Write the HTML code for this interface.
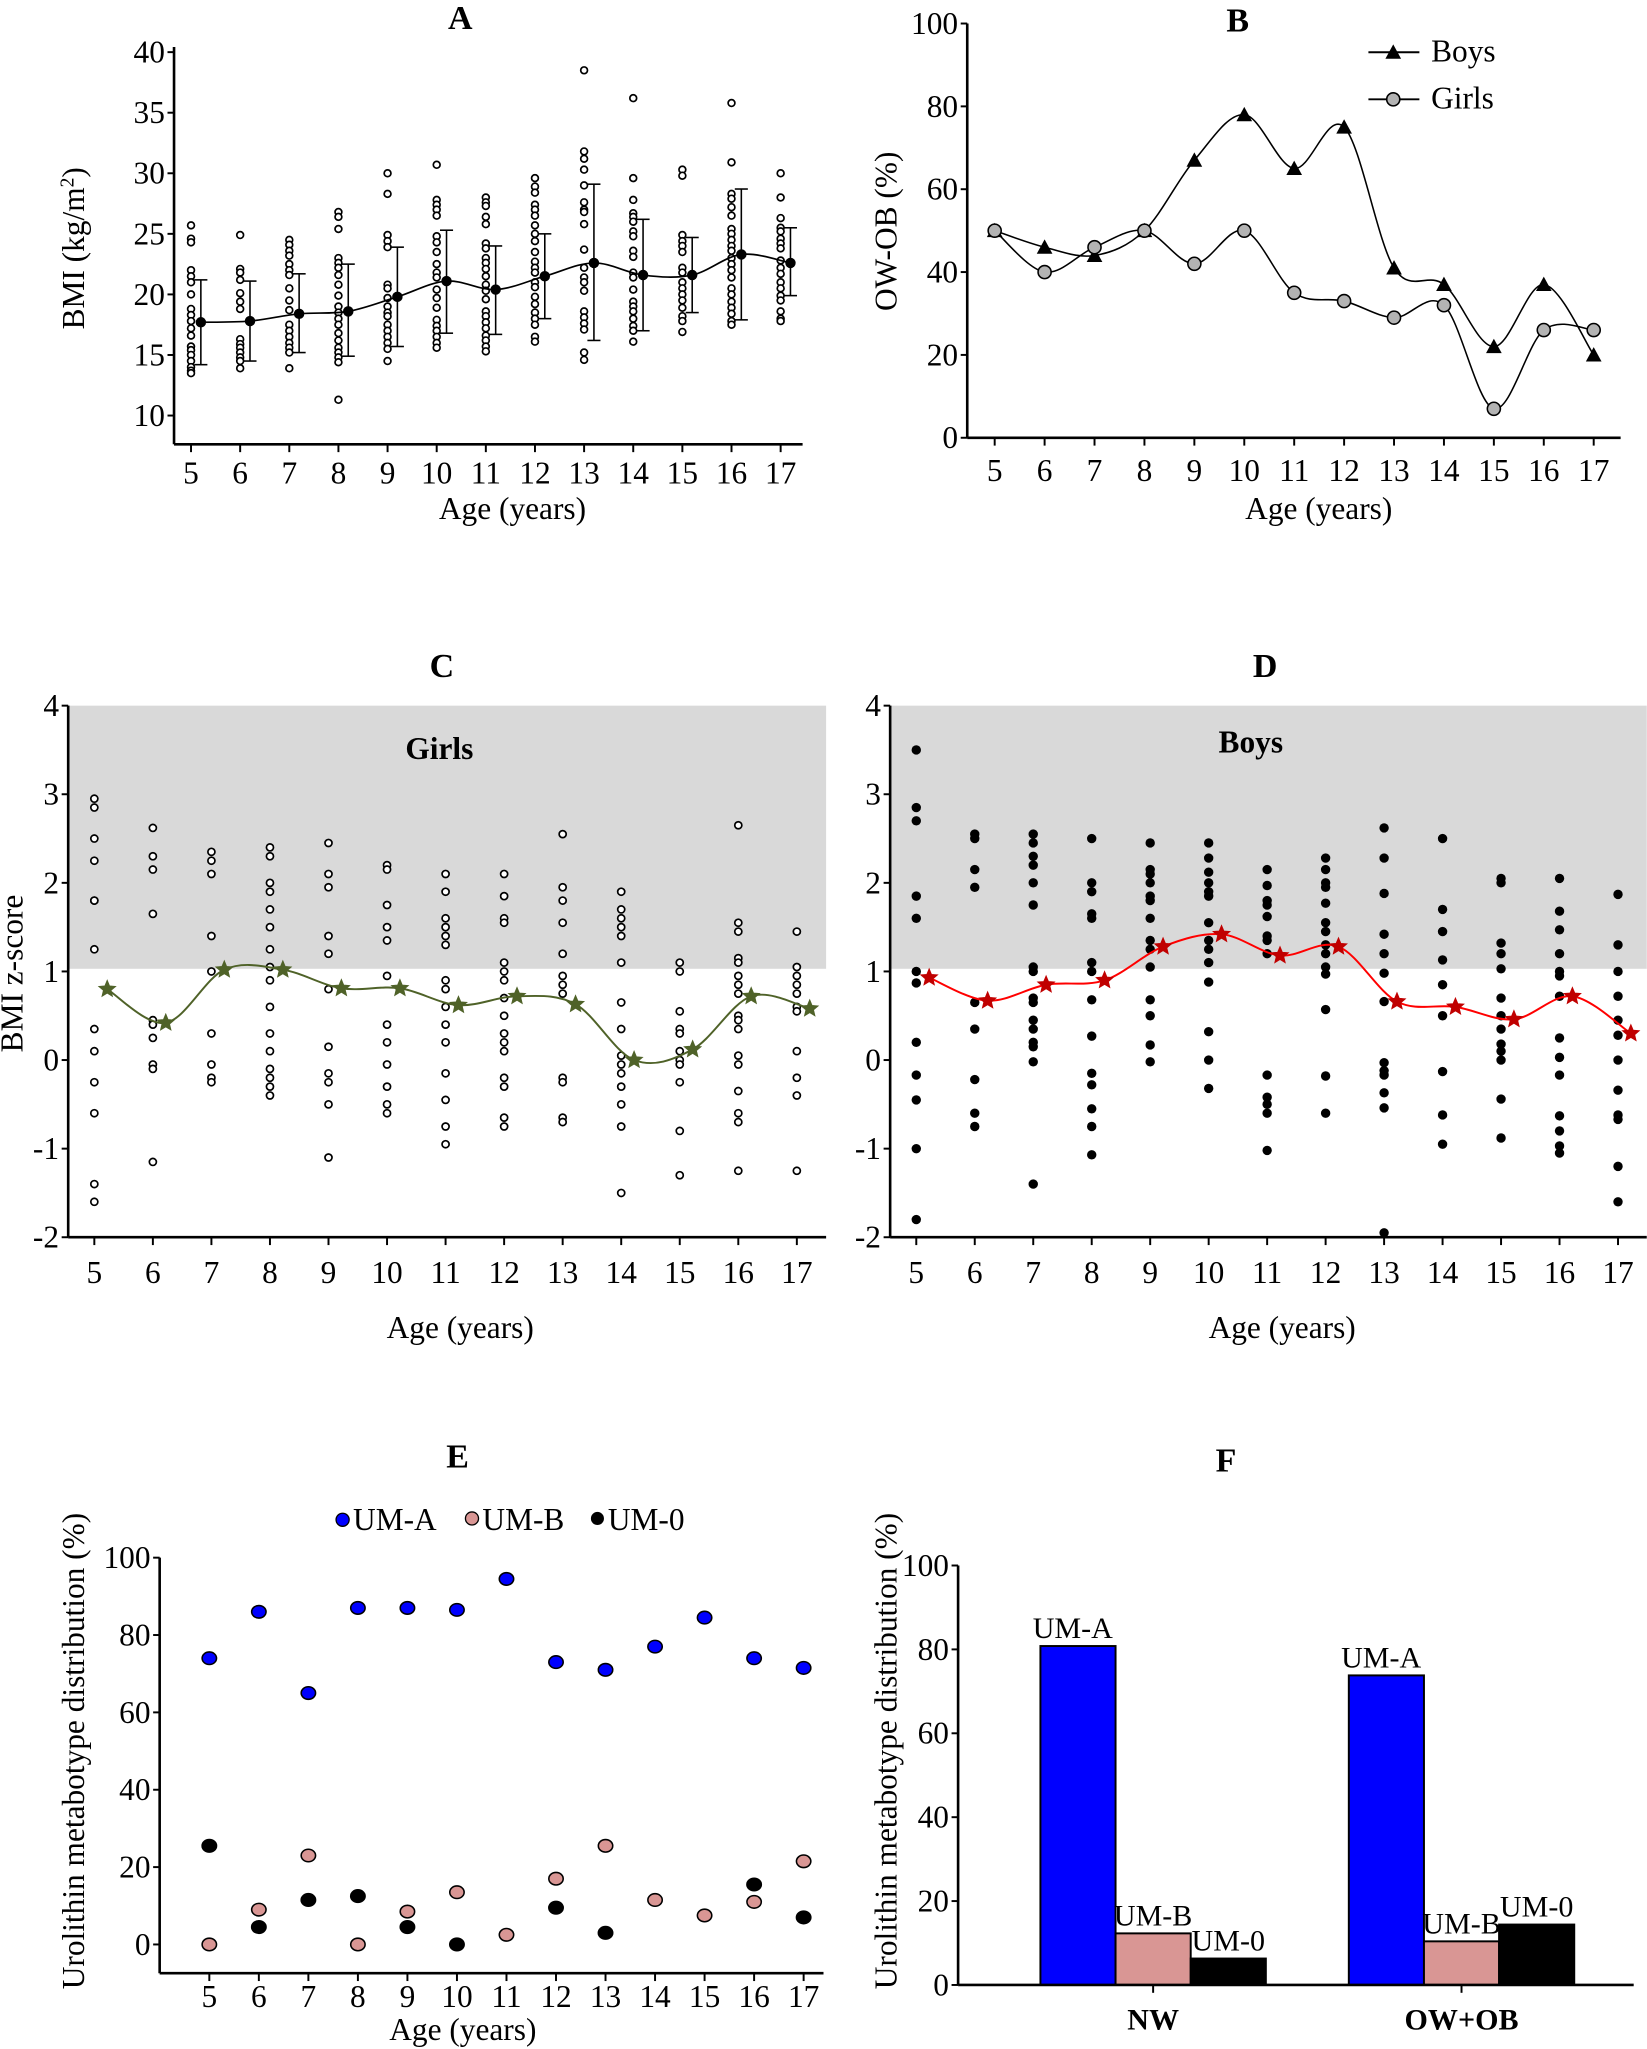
<!DOCTYPE html>
<html><head><meta charset="utf-8"><title>BMI and urolithin metabotype figure</title>
<style>
html,body{margin:0;padding:0;background:#fff;}
svg{display:block;font-family:"Liberation Serif",serif;}
</style></head>
<body>
<svg id="fig" width="1647" height="2049" viewBox="0 0 1260 1568" xmlns="http://www.w3.org/2000/svg"></svg>
<script>
// ---------- DATA ----------
const ages = [5,6,7,8,9,10,11,12,13,14,15,16,17];
// Panel A
const bmiPoints = [
 [25.7,24.6,24.3,22,21.5,21,20,18.8,18.3,17.8,17.2,16.6,15.7,15.4,15,14.5,14,13.7,13.5],
 [24.9,22.1,21.8,21.2,20.1,19.4,18.8,16.3,15.9,15.6,15.2,14.8,14.5,13.9],
 [24.5,24.1,23.6,23.2,22.5,22,21.6,20.5,19.5,18.7,17.5,17,16.5,16,15.6,15.2,13.9],
 [26.8,26.4,25.4,23,22.6,22.2,21.6,20.8,19.9,19,18.5,18,17.5,16.8,16.2,15.6,15.2,14.8,14.4,11.3],
 [30,28.3,24.9,24.4,23.9,20.8,20.5,19.7,19,18.5,18.2,17.5,17,16.5,16,15.5,14.5],
 [30.7,27.8,27.4,27,26.5,24.8,24.3,23.5,22.5,21.8,21.4,20.4,19.7,18.9,17.9,17.4,17,16.5,16,15.6],
 [28,27.6,27.3,26.4,25.8,24.2,23.8,23,22.6,22.1,21.5,20.8,20.3,19.6,18.6,18.2,17.7,17.2,16.6,16.2,15.7,15.3],
 [29.6,28.9,28.4,27.4,27,26.5,25.7,25,24.4,23.5,22.7,22.2,21.8,21,20.6,19.8,19.2,18.5,18,17.5,16.5,16.1],
 [38.5,31.8,31.2,30.3,29,27.6,27,26.8,25.8,23.7,22.2,21.4,21,20.3,18.6,18.1,17.6,17.1,15.2,14.6],
 [36.2,29.6,27.8,26.7,26.4,26,25.2,24.8,23.6,23.1,21.8,21.4,20.4,19.4,19,18.6,18,17.4,17,16.1],
 [30.3,29.8,24.9,24.4,24,23.5,22.2,21.8,21,20.5,20,19.5,18.9,18.2,17.8,16.9],
 [35.8,30.9,28.3,27.9,27.2,26.5,25.4,25,24.5,24,23.6,23,22.5,22,21.4,20.5,20,19.4,18.9,18.4,17.8,17.5],
 [30,28,26.3,25.5,25.2,24.6,24.2,23.8,22.8,22.2,21.7,21,20.5,19.9,19.5,18.6,18,17.8]
];
const bmiMean = [17.7,17.8,18.4,18.6,19.8,21.1,20.4,21.5,22.6,21.6,21.6,23.3,22.6];
const bmiUpper = [21.2,21.1,21.7,22.5,23.9,25.3,24.0,25.0,29.1,26.2,24.7,28.7,25.5];
const bmiLower = [14.2,14.5,15.2,14.9,15.7,16.8,16.7,18.0,16.2,17.0,18.5,17.9,19.9];
const bmiTicks = [10,15,20,25,30,35,40];
// Panel B
const boysOWOB = [50,46,44,50,67,78,65,75,41,37,22,37,20];
const girlsOWOB = [50,40,46,50,42,50,35,33,29,32,7,26,26];
const pctTicks = [0,20,40,60,80,100];
// Panel C
const girlsZ = [
 [2.95,2.85,2.5,2.25,1.8,1.8,1.25,0.35,0.1,-0.25,-0.6,-1.4,-1.6],
 [2.62,2.3,2.15,1.65,0.45,0.4,0.25,-0.05,-0.1,-1.15],
 [2.35,2.25,2.1,1.4,1.0,0.3,-0.05,-0.2,-0.25],
 [2.4,2.3,2.0,1.9,1.7,1.5,1.25,1.05,0.9,0.6,0.3,0.1,-0.1,-0.2,-0.3,-0.4],
 [2.45,2.1,1.95,1.4,1.2,0.8,0.15,-0.15,-0.25,-0.5,-1.1],
 [2.2,2.15,1.75,1.5,1.35,0.95,0.4,0.2,-0.05,-0.3,-0.5,-0.6],
 [2.1,1.9,1.6,1.5,1.4,1.3,0.9,0.8,0.6,0.4,0.2,-0.15,-0.45,-0.75,-0.95],
 [2.1,1.85,1.6,1.55,1.1,1.0,0.9,0.7,0.5,0.3,0.2,0.1,-0.2,-0.3,-0.65,-0.75],
 [2.55,1.95,1.8,1.55,1.2,0.95,0.85,0.75,-0.2,-0.25,-0.65,-0.7],
 [1.9,1.7,1.6,1.5,1.4,1.1,0.65,0.35,0.05,-0.05,-0.15,-0.3,-0.5,-0.75,-1.5],
 [1.1,1.0,0.55,0.35,0.3,0.1,0.0,-0.05,-0.25,-0.8,-1.3],
 [2.65,1.55,1.45,1.15,1.1,0.95,0.85,0.75,0.5,0.45,0.35,0.05,-0.05,-0.35,-0.6,-0.7,-1.25],
 [1.45,1.05,0.95,0.85,0.75,0.6,0.55,0.1,-0.2,-0.4,-1.25]
];
const girlsMeanZ = [0.8,0.42,1.02,1.02,0.81,0.81,0.62,0.72,0.63,0.0,0.12,0.72,0.58];
// Panel D
const boysZ = [
 [3.5,2.85,2.7,1.85,1.6,1.0,0.87,0.2,-0.17,-0.45,-1.0,-1.8],
 [2.55,2.5,2.15,1.95,0.65,0.35,-0.22,-0.6,-0.75],
 [2.55,2.45,2.3,2.2,2.0,1.75,1.05,1.0,0.7,0.65,0.45,0.35,0.2,0.15,-0.02,-1.4],
 [2.5,2.0,1.9,1.65,1.6,1.1,1.0,0.68,0.27,-0.15,-0.28,-0.55,-0.75,-1.07],
 [2.45,2.15,2.1,2.0,1.85,1.8,1.6,1.35,1.25,1.05,0.68,0.5,0.17,-0.02],
 [2.45,2.28,2.12,2.0,1.9,1.85,1.55,1.35,1.25,1.1,0.88,0.32,0.0,-0.32],
 [2.15,1.97,1.8,1.75,1.62,1.4,1.35,1.2,-0.17,-0.42,-0.5,-0.6,-1.02],
 [2.28,2.15,2.0,1.95,1.77,1.55,1.45,1.3,1.2,1.05,0.97,0.57,-0.18,-0.6],
 [2.62,2.28,1.88,1.42,1.2,0.98,0.66,-0.03,-0.12,-0.17,-0.37,-0.54,-1.95],
 [2.5,1.7,1.45,1.13,0.85,0.5,-0.13,-0.62,-0.95],
 [2.05,2.0,1.32,1.2,1.03,0.7,0.5,0.35,0.18,0.1,0.0,-0.44,-0.88],
 [2.05,1.68,1.47,1.2,1.0,0.95,0.72,0.25,0.03,-0.17,-0.63,-0.8,-0.97,-1.05],
 [1.87,1.3,1.0,0.72,0.45,0.28,0.0,-0.34,-0.62,-0.67,-1.2,-1.6]
];
const boysMeanZ = [0.93,0.67,0.85,0.9,1.28,1.42,1.18,1.28,0.66,0.6,0.46,0.72,0.3];
const zTicks = [-2,-1,0,1,2,3,4];
// Panel E
const umA = [74,86,65,87,87,86.5,94.5,73,71,77,84.5,74,71.5];
const umB = [0,9,23,0,8.5,13.5,2.5,17,25.5,11.5,7.5,11,21.5];
const um0 = [25.5,4.5,11.5,12.5,4.5,0,null,9.5,3,null,null,15.5,7];
// Panel F
const groups = ["NW","OW+OB"];
const fA = [80.8,73.8];
const fB = [12.3,10.4];
const f0 = [6.3,14.4];

// ---------- HELPERS ----------
const NS="http://www.w3.org/2000/svg";
const svg=document.getElementById('fig');
const FS=24;
function el(tag, name, attrs, parent, text){
  const e=document.createElementNS(NS,tag);
  for(const k in attrs) e.setAttribute(k,attrs[k]);
  
  
  if(text!==undefined) e.textContent=text;
  (parent||svg).appendChild(e);
  return e;
}
function txt(name,x,y,s,size,opts,parent){
  const a=Object.assign({x:x,y:y,'font-size':size,'text-anchor':'middle',fill:'#000'},opts||{});
  return el('text',name,a,parent,s);
}
function smoothPath(pts){
  let d='M'+pts[0][0]+','+pts[0][1];
  for(let i=0;i<pts.length-1;i++){
    const p0=pts[i-1]||pts[i],p1=pts[i],p2=pts[i+1],p3=pts[i+2]||p2;
    const c1x=p1[0]+(p2[0]-p0[0])/6,c1y=p1[1]+(p2[1]-p0[1])/6;
    const c2x=p2[0]-(p3[0]-p1[0])/6,c2y=p2[1]-(p3[1]-p1[1])/6;
    d+=' C'+c1x+','+c1y+' '+c2x+','+c2y+' '+p2[0]+','+p2[1];
  }
  return d;
}
function star(cx,cy,r){
  let p=[];
  for(let i=0;i<10;i++){const a=-Math.PI/2+i*Math.PI/5;const rr=i%2?r*0.45:r;p.push((cx+rr*Math.cos(a)).toFixed(2)+','+(cy+rr*Math.sin(a)).toFixed(2));}
  return p.join(' ');
}
function ageAxis(g,xs,yAxis,x0,x1,labY,name){
  el('line',name+'-x-axis',{x1:x0,x2:x1,y1:yAxis,y2:yAxis,stroke:'#000','stroke-width':2},g);
  ages.forEach((a,i)=>{
    el('line',name+'-x-tick',{x1:xs(a),x2:xs(a),y1:yAxis,y2:yAxis+6,stroke:'#000','stroke-width':1.5},g);
    txt(name+'-x-tick-label',xs(a),labY,String(a),FS,{},g);
  });
}
function yAxis(g,ys,ticks,x,yTop,yBot,name,lab){
  el('line',name+'-y-axis',{x1:x,x2:x,y1:yTop,y2:yBot,stroke:'#000','stroke-width':2},g);
  ticks.forEach(t=>{
    el('line',name+'-y-tick',{x1:x-5,x2:x,y1:ys(t),y2:ys(t),stroke:'#000','stroke-width':1.5},g);
    txt(name+'-y-tick-label',x-7,ys(t)+8,lab?lab(t):String(t),FS,{'text-anchor':'end'},g);
  });
}

// ---------- PANEL A ----------
(function(){
  const g=el('g','panel-a',{});
  const xs=a=>146+(a-5)*37.6, ys=v=>318-(v-10)*9.27;
  txt('panel-a-title',352,22,'A',26,{'font-weight':'bold'},g);
  yAxis(g,ys,bmiTicks,133,36,340,'panel-a');
  ageAxis(g,xs,340,133,614,370,'panel-a');
  txt('panel-a-x-title',392,397,'Age (years)',FS,{},g);
  const yl=txt('panel-a-y-title',0,0,'',FS,{transform:'translate(64,190) rotate(-90)'},g);
  yl.innerHTML='BMI (kg/m<tspan dy="-8" font-size="15">2</tspan><tspan dy="8">)</tspan>';
  bmiPoints.forEach((arr,i)=>arr.forEach(v=>el('circle','bmi-point',{cx:xs(ages[i]),cy:ys(v),r:2.6,fill:'#fff',stroke:'#000','stroke-width':1.3},g)));
  const mpts=bmiMean.map((m,i)=>[xs(ages[i]+0.2),ys(m)]);
  el('path','bmi-mean-line',{d:smoothPath(mpts),fill:'none',stroke:'#000','stroke-width':1.3},g);
  bmiMean.forEach((m,i)=>{
    const x=xs(ages[i]+0.2);
    el('line','bmi-error-bar',{x1:x,x2:x,y1:ys(bmiUpper[i]),y2:ys(bmiLower[i]),stroke:'#000','stroke-width':1.2},g);
    el('line','bmi-error-cap',{x1:x-5,x2:x+5,y1:ys(bmiUpper[i]),y2:ys(bmiUpper[i]),stroke:'#000','stroke-width':1.2},g);
    el('line','bmi-error-cap',{x1:x-5,x2:x+5,y1:ys(bmiLower[i]),y2:ys(bmiLower[i]),stroke:'#000','stroke-width':1.2},g);
    el('circle','bmi-mean-point',{cx:x,cy:ys(m),r:4,fill:'#000'},g);
  });
})();

// ---------- PANEL B ----------
(function(){
  const g=el('g','panel-b',{});
  const xs=a=>761+(a-5)*38.2, ys=v=>335-v*3.17;
  txt('panel-b-title',947,24,'B',26,{'font-weight':'bold'},g);
  yAxis(g,ys,pctTicks,740,18,335,'panel-b');
  ageAxis(g,xs,335,740,1240,368,'panel-b');
  txt('panel-b-x-title',1009,397,'Age (years)',FS,{},g);
  txt('panel-b-y-title',0,0,'OW-OB (%)',FS,{transform:'translate(686,177) rotate(-90)'},g);
  const bp=boysOWOB.map((v,i)=>[xs(ages[i]),ys(v)]);
  const gp=girlsOWOB.map((v,i)=>[xs(ages[i]),ys(v)]);
  el('path','boys-line',{d:smoothPath(bp),fill:'none',stroke:'#000','stroke-width':1.2},g);
  el('path','girls-line',{d:smoothPath(gp),fill:'none',stroke:'#000','stroke-width':1.2},g);
  bp.forEach(p=>el('polygon','boys-marker',{points:(p[0]-6)+','+(p[1]+5)+' '+(p[0]+6)+','+(p[1]+5)+' '+p[0]+','+(p[1]-6),fill:'#000'},g));
  gp.forEach(p=>el('circle','girls-marker',{cx:p[0],cy:p[1],r:5,fill:'#b3b3b3',stroke:'#000','stroke-width':1.2},g));
  el('line','legend-boys-line',{x1:1047,x2:1086,y1:40,y2:40,stroke:'#000','stroke-width':1.5},g);
  el('polygon','legend-boys-marker',{points:'1060,45 1072,45 1066,34',fill:'#000'},g);
  txt('legend-boys-label',1095,47,'Boys',FS,{'text-anchor':'start'},g);
  el('line','legend-girls-line',{x1:1047,x2:1086,y1:76,y2:76,stroke:'#000','stroke-width':1.5},g);
  el('circle','legend-girls-marker',{cx:1066,cy:76,r:5,fill:'#b3b3b3',stroke:'#000','stroke-width':1.2},g);
  txt('legend-girls-label',1095,83,'Girls',FS,{'text-anchor':'start'},g);
})();

// ---------- PANELS C & D ----------
function zPanel(id,title,sub,x0,x1,xs,pts,means,filled,color,lineColor,bandRight,titleX,subX){
  const g=el('g','panel-'+id,{});
  const ys=v=>811.2-v*67.8;
  el('rect','panel-'+id+'-overweight-band',{x:x0,y:ys(4),width:bandRight-x0,height:ys(1.03)-ys(4),fill:'#d9d9d9'},g);
  txt('panel-'+id+'-title',titleX,518,title,26,{'font-weight':'bold'},g);
  txt('panel-'+id+'-group-label',subX,id==='c'?581:576,sub,FS,{'font-weight':'bold'},g);
  yAxis(g,ys,zTicks,x0,ys(4),ys(-2),'panel-'+id);
  ageAxis(g,xs,ys(-2),x0,x1,982,'panel-'+id);
  pts.forEach((arr,i)=>arr.forEach(v=>el('circle','z-point',{cx:xs(ages[i]),cy:ys(v),r:filled?3.6:2.7,fill:filled?'#000':'#fff',stroke:'#000','stroke-width':filled?0:1.3},g)));
  const mp=means.map((m,i)=>[xs(ages[i]+0.22),ys(m)]);
  el('path','panel-'+id+'-mean-line',{d:smoothPath(mp),fill:'none',stroke:lineColor,'stroke-width':1.5},g);
  mp.forEach(p=>el('polygon','panel-'+id+'-mean-star',{points:star(p[0],p[1],7),fill:color,stroke:color,'stroke-width':0.5},g));
  return g;
}
zPanel('c','C','Girls',52,632,a=>72+(a-5)*44.8,girlsZ,girlsMeanZ,false,'#4f6228','#4f6228',632,338,336);
zPanel('d','D','Boys',681,1260,a=>701+(a-5)*44.75,boysZ,boysMeanZ,true,'#c00000','#ff0000',1260,968,957);
txt('panel-c-x-title',352,1024,'Age (years)',FS,{},svg);
txt('panel-d-x-title',981,1024,'Age (years)',FS,{},svg);
txt('panel-c-y-title',0,0,'BMI z-score',FS,{transform:'translate(17,745) rotate(-90)'},svg);

// ---------- PANEL E ----------
(function(){
  const g=el('g','panel-e',{});
  const xs=a=>160+(a-5)*37.9, ys=v=>1488-v*2.96;
  txt('panel-e-title',350,1123,'E',26,{'font-weight':'bold'},g);
  yAxis(g,ys,pctTicks,122,1192,1510,'panel-e');
  ageAxis(g,xs,1510,122,630,1536,'panel-e');
  txt('panel-e-x-title',354,1561,'Age (years)',FS,{},g);
  txt('panel-e-y-title',0,0,'Urolithin metabotype distribution (%)',FS,{transform:'translate(64,1340) rotate(-90)'},g);
  const series=[[umA,'#0000ff','um-a'],[umB,'#d99694','um-b'],[um0,'#000','um-0']];
  series.forEach(s=>s[0].forEach((v,i)=>{ if(v===null) return;
    el('ellipse',s[2]+'-point',{cx:xs(ages[i]),cy:ys(v),rx:5.5,ry:4.8,fill:s[1],stroke:'#000','stroke-width':1.2},g);}));
  el('circle','legend-um-a-marker',{cx:262,cy:1163,r:5,fill:'#0000ff',stroke:'#000'},g);
  txt('legend-um-a-label',270,1171,'UM-A',FS,{'text-anchor':'start'},g);
  el('circle','legend-um-b-marker',{cx:361,cy:1162,r:5,fill:'#d99694',stroke:'#000'},g);
  txt('legend-um-b-label',369,1171,'UM-B',FS,{'text-anchor':'start'},g);
  el('circle','legend-um-0-marker',{cx:457,cy:1162,r:5,fill:'#000'},g);
  txt('legend-um-0-label',465,1171,'UM-0',FS,{'text-anchor':'start'},g);
})();

// ---------- PANEL F ----------
(function(){
  const g=el('g','panel-f',{});
  const ys=v=>1519-v*3.21;
  const groupX=[796,1032], bw=57.5;
  txt('panel-f-title',938,1126,'F',26,{'font-weight':'bold'},g);
  yAxis(g,ys,pctTicks,733,1198,1519,'panel-f');
  txt('panel-f-y-title',0,0,'Urolithin metabotype distribution (%)',FS,{transform:'translate(686,1340) rotate(-90)'},g);
  const series=[[fA,'#0000ff','UM-A'],[fB,'#d99694','UM-B'],[f0,'#000','UM-0']];
  groups.forEach((gr,gi)=>{
    series.forEach((s,si)=>{
      const x=groupX[gi]+si*bw, v=s[0][gi];
      el('rect','bar-'+gr.toLowerCase().replace('+','-')+'-'+s[2].toLowerCase(),{x:x,y:ys(v),width:bw,height:ys(0)-ys(v),fill:s[1],stroke:'#000','stroke-width':1.5},g);
      txt('bar-label',x+bw/2+(si===0?-4:0),ys(v)-6,s[2],23,{},g);
    });
    const cx=groupX[gi]+bw*1.5;
    el('line','panel-f-x-tick',{x1:cx,x2:cx,y1:1519,y2:1525,stroke:'#000','stroke-width':1.5},g);
    txt('panel-f-group-label',cx,1553,gr,23,{'font-weight':'bold'},g);
  });
  el('line','panel-f-x-axis',{x1:733,x2:1250,y1:1519,y2:1519,stroke:'#000','stroke-width':2},g);
})();
</script>
</body></html>
